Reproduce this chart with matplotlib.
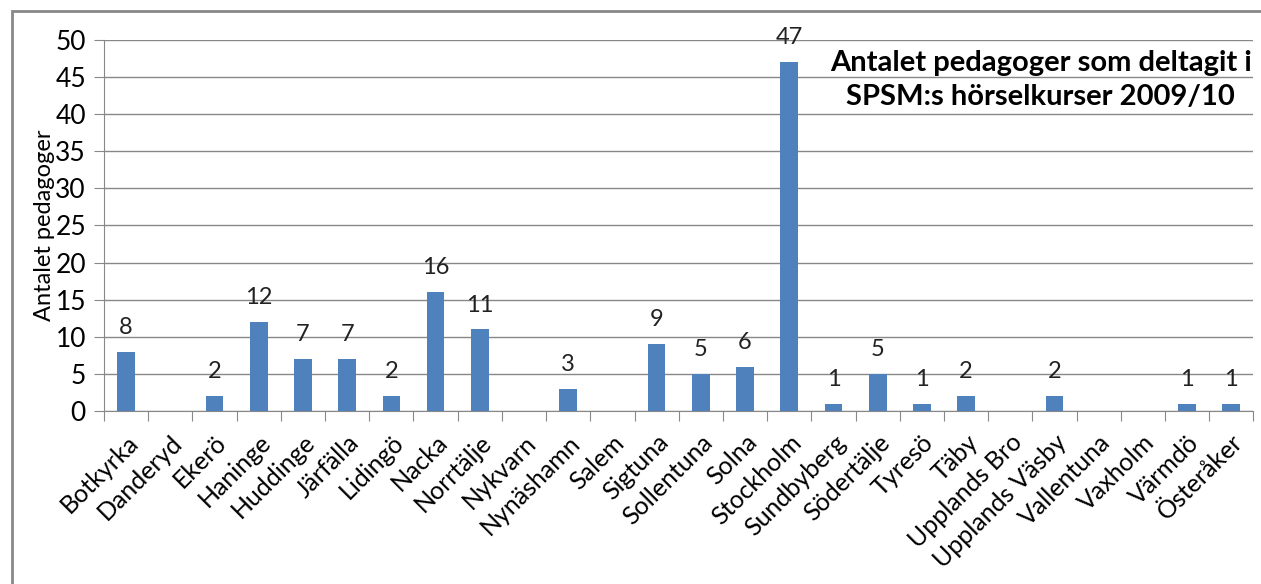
import matplotlib.pyplot as plt
from matplotlib.patches import Rectangle

# data
kommuner = ['Botkyrka', 'Danderyd', 'Ekerö', 'Haninge', 'Huddinge', 'Järfälla',
            'Lidingö', 'Nacka', 'Norrtälje', 'Nykvarn', 'Nynäshamn', 'Salem',
            'Sigtuna', 'Sollentuna', 'Solna', 'Stockholm', 'Sundbyberg',
            'Södertälje', 'Tyresö', 'Täby', 'Upplands Bro', 'Upplands Väsby',
            'Vallentuna', 'Vaxholm', 'Värmdö', 'Österåker']
antal = [8, 0, 2, 12, 7, 7, 2, 16, 11, 0, 3, 0, 9, 5, 6, 47, 1, 5, 1, 2, 0, 2, 0, 0, 1, 1]

plt.rcParams['font.family'] = ['Lato', 'DejaVu Sans']

fig = plt.figure(figsize=(12.61, 5.84), dpi=100)
ax = fig.add_axes([0.0825, 0.296, 0.9115, 0.636])

x = range(len(kommuner))
ax.bar(x, antal, width=0.4, color='#4f81bd', zorder=3)

for i, v in zip(x, antal):
    if v > 0:
        ax.annotate(str(v), (i, v), xytext=(0, 10), textcoords='offset points',
                    ha='center', va='bottom', fontsize=17, color='#222222',
                    annotation_clip=False)

ax.set_xlim(-0.5, len(kommuner) - 0.5)
ax.set_ylim(0, 50)
ax.set_yticks(range(0, 51, 5))
ax.set_xticks([i - 0.5 for i in range(len(kommuner) + 1)], minor=False)
ax.set_xticklabels([])
ax.set_xticks(list(x), minor=True)
ax.set_xticklabels(kommuner, minor=True, rotation=45, ha='right', rotation_mode='anchor', fontsize=18)
ax.tick_params(axis='x', which='minor', length=0, pad=14)
ax.tick_params(axis='x', which='major', length=7, color='#888888')
ax.tick_params(axis='y', length=7, color='#888888', labelsize=19, pad=6)

ax.grid(axis='y', color='#888888', linewidth=1, zorder=0)
for s in ['top', 'right']:
    ax.spines[s].set_visible(False)
for s in ['left', 'bottom']:
    ax.spines[s].set_color('#888888')

ax.set_ylabel('Antalet pedagoger', fontsize=17, labelpad=0)

ax.text(0.815, 0.892, 'Antalet pedagoger som deltagit i\nSPSM:s hörselkurser 2009/10',
        transform=ax.transAxes, ha='center', va='center', fontsize=21,
        fontweight='bold', linespacing=1.4, zorder=5)

# outer chart frame
fig.patches.append(Rectangle((0.0095, -0.1), 1.1, 1.081, transform=fig.transFigure,
                             fill=False, edgecolor='#888888', linewidth=2))

plt.savefig('out.png', dpi=100)
